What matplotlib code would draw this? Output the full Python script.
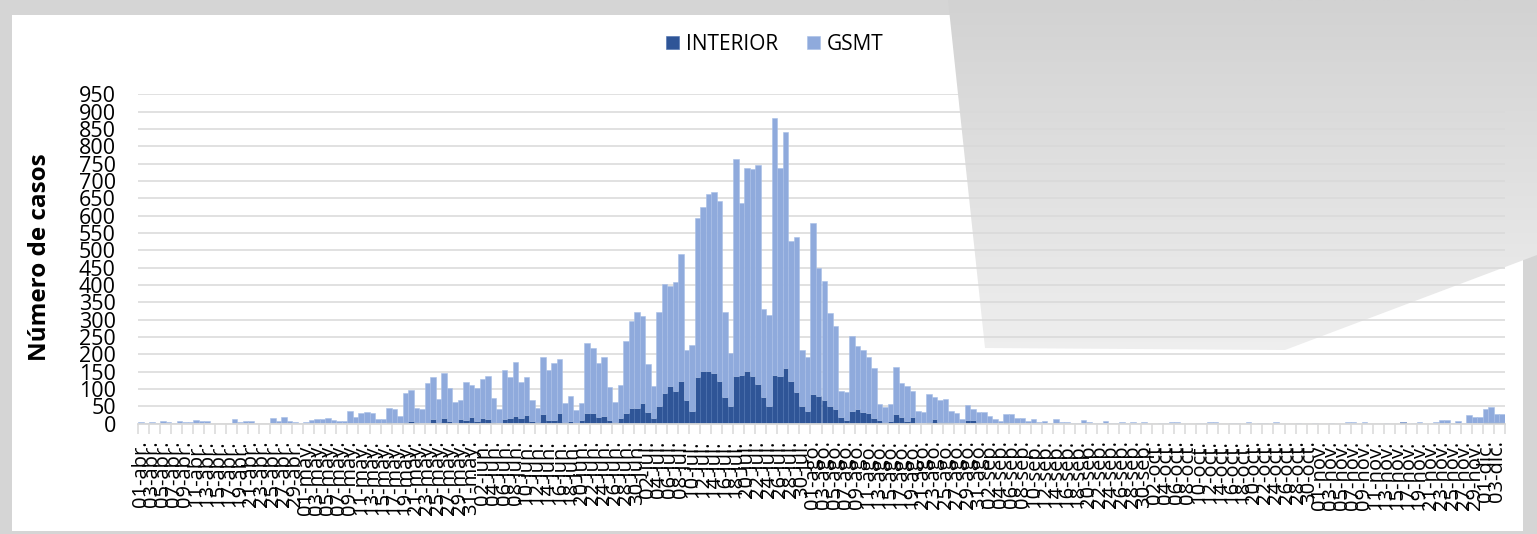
import numpy as np
import matplotlib
matplotlib.use("Agg")
import matplotlib.pyplot as plt
from matplotlib.patches import Polygon, Rectangle
from matplotlib.colors import LinearSegmentedColormap
import pandas as pd

plt.rcParams['font.family'] = ['Open Sans', 'DejaVu Sans']

# ---------------- data ----------------
start_date = "2020-04-01"
n_days = 248
month_abbr = ["ene", "feb", "mar", "abr", "may", "jun", "jul", "ago", "sep", "oct", "nov", "dic"]

interior = [
    0, 0, 0, 0, 0, 0, 0, 0, 0, 0,
    0, 0, 0, 0, 0, 0, 0, 0, 0, 0,
    0, 0, 0, 0, 0, 0, 0, 0, 0, 0,
    0, 0, 0, 0, 0, 0, 0, 0, 0, 0,
    0, 0, 0, 0, 0, 4, 2, 1, 6, 9,
    5, 2, 1, 13, 6, 16, 9, 1, 14, 12,
    19, 7, 16, 14, 5, 1, 13, 16, 23, 17,
    25, 8, 5, 27, 12, 10, 31, 5, 9, 2,
    11, 32, 32, 19, 21, 11, 5, 16, 32, 46,
    46, 61, 34, 16, 51, 88, 108, 95, 123, 68,
    36, 134, 152, 152, 146, 124, 77, 52, 138, 140,
    152, 138, 114, 77, 51, 140, 138, 161, 124, 92,
    51, 37, 87, 80, 68, 52, 42, 19, 11, 36,
    41, 34, 31, 16, 11, 6, 8, 28, 20, 8,
    18, 3, 2, 5, 13, 5, 5, 4, 1, 0,
    11, 11, 6, 1, 1, 0, 1, 5, 1, 0,
    0, 0, 0, 0, 0, 0, 1, 0, 0, 0,
    0, 0, 0, 0, 0, 0, 0, 0, 0, 0,
    0, 0, 0, 0, 0, 0, 0, 0, 0, 0,
    0, 0, 0, 0, 0, 0, 0, 0, 0, 0,
    0, 0, 0, 0, 0, 0, 0, 0, 0, 0,
    0, 0, 0, 0, 0, 0, 0, 0, 0, 0,
    0, 0, 0, 0, 0, 0, 0, 0, 0, 4,
    0, 0, 0, 0, 0, 0, 0, 0, 0, 0,
    0, 0, 3, 3, 4, 5, 4, 4,
]

gsmt = [
    5, 2, 5, 1, 8, 4, 1, 8, 6, 5,
    11, 8, 9, 0, 0, 0, 0, 14, 4, 7,
    7, 0, 0, 0, 17, 8, 18, 7, 4, 1,
    5, 12, 14, 14, 16, 11, 9, 8, 38, 18,
    31, 34, 31, 15, 13, 41, 39, 21, 84, 88,
    41, 40, 117, 123, 65, 130, 94, 63, 54, 109,
    93, 97, 113, 125, 68, 42, 143, 120, 154, 104,
    110, 59, 41, 164, 143, 164, 156, 56, 70, 38,
    49, 200, 187, 156, 170, 94, 58, 95, 207, 251,
    276, 251, 137, 94, 270, 316, 290, 313, 366, 145,
    191, 458, 474, 510, 521, 519, 245, 153, 625, 498,
    585, 597, 632, 255, 262, 742, 600, 680, 402, 448,
    162, 154, 492, 370, 345, 268, 240, 76, 80, 218,
    183, 178, 160, 144, 45, 43, 49, 137, 96, 101,
    77, 34, 32, 82, 63, 63, 65, 33, 31, 15,
    43, 31, 29, 34, 20, 15, 8, 22, 26, 16,
    16, 8, 13, 5, 8, 2, 12, 5, 5, 2,
    1, 11, 5, 3, 2, 7, 1, 1, 4, 3,
    4, 3, 4, 0, 0, 1, 1, 4, 4, 0,
    0, 0, 1, 1, 4, 4, 0, 0, 1, 1,
    0, 4, 0, 1, 1, 0, 5, 0, 0, 0,
    1, 0, 0, 1, 0, 0, 1, 0, 0, 5,
    5, 0, 4, 0, 0, 0, 1, 0, 0, 1,
    0, 1, 4, 0, 0, 6, 10, 10, 2, 9,
    1, 24, 16, 15, 38, 44, 25, 24,
]

series_names = ["INTERIOR", "GSMT"]
y_ticks = list(range(0, 951, 50))
y_label = "Número de casos"

dates = pd.date_range(start_date, periods=n_days, freq="D")
date_labels = [f"{d.day:02d}-{month_abbr[d.month - 1]}." for d in dates]

# ---------------- style ----------------
W, H = 1537, 534
dark = "#2F5597"
light = "#8FAADC"
grid_c = "#d9d9d9"

fig = plt.figure(figsize=(W / 100, H / 100), dpi=100, facecolor="#d5d5d5")

bg = fig.add_axes([0, 0, 1, 1], zorder=0)
bg.set_xlim(0, W)
bg.set_ylim(H, 0)
bg.axis("off")
bg.add_patch(Rectangle((12, 15), 1511, 516, fc="white", ec="none", zorder=0))
poly = Polygon([(948, 0), (W, 0), (W, 255), (1285, 350), (985, 348)],
               closed=True, fc="none", ec="none")
bg.add_patch(poly)
grad = np.linspace(0, 1, 256).reshape(-1, 1)
cmap = LinearSegmentedColormap.from_list("g", ["#d2d2d2", "#efefef"])
im = bg.imshow(grad, extent=(940, W, 355, 0), cmap=cmap, aspect="auto", zorder=1)
im.set_clip_path(poly)

ax = fig.add_axes([138 / W, 1 - 423.7 / H, 1367 / W, 329.3 / H], zorder=1)
ax.patch.set_alpha(0)

x = np.arange(n_days)
b1 = ax.bar(x, interior, width=1.0, color=dark, edgecolor="#4a6fae", linewidth=0.4,
            label=series_names[0], zorder=2)
b2 = ax.bar(x, gsmt, width=1.0, bottom=interior, color=light, edgecolor="#a9bfe6",
            linewidth=0.4, label=series_names[1], zorder=2)

ax.set_xlim(-0.5, n_days - 0.5)
ax.set_ylim(0, 950)
ax.set_yticks(y_ticks)
ax.set_yticklabels([str(v) for v in y_ticks], fontsize=15.5)
ax.yaxis.grid(True, color=grid_c, linewidth=1.1)
ax.set_axisbelow(True)
ax.tick_params(axis="y", length=0, pad=16)

for s in ["top", "right", "left"]:
    ax.spines[s].set_visible(False)
ax.spines["bottom"].set_color(grid_c)
ax.spines["bottom"].set_linewidth(1.3)

lab_pos = x[::2]
ax.set_xticks(lab_pos)
ax.set_xticklabels([date_labels[i] for i in lab_pos], rotation=90, fontsize=14.5)
ax.tick_params(axis="x", which="major", length=0, pad=12)
ax.set_xticks(np.arange(-0.5, n_days, 2), minor=True)
ax.tick_params(axis="x", which="minor", length=7, color=grid_c, width=1.1)

fig.legend(handles=[b1, b2], labels=series_names, loc="center",
           bbox_to_anchor=(775 / W, 1 - 44 / H), ncol=2, frameon=False,
           fontsize=15, handlelength=0.6, handleheight=0.6, handletextpad=0.35,
           columnspacing=1.4)

fig.text(40 / W, 1 - 257 / H, y_label, rotation=90, fontsize=17.5,
         fontweight="bold", ha="center", va="center")

fig.savefig("out.png", dpi=100, facecolor=fig.get_facecolor())
